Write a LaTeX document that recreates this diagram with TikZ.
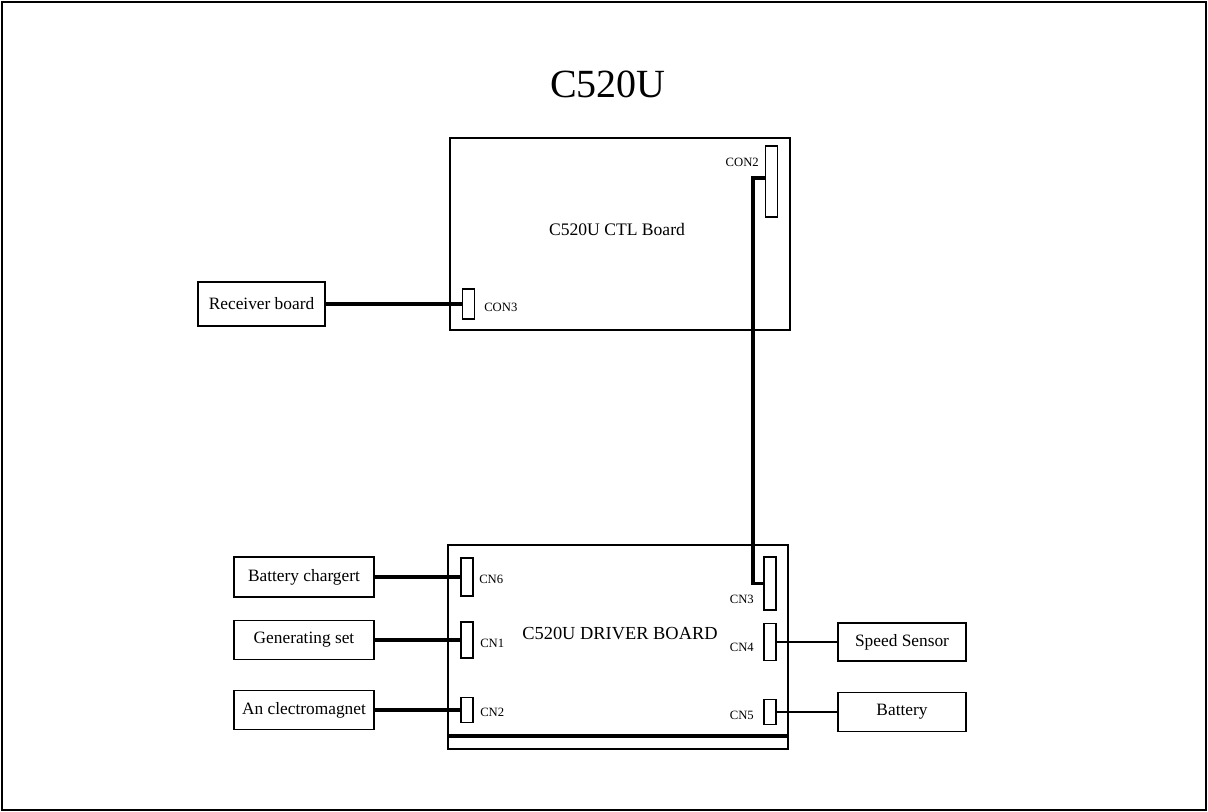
\documentclass[tikz,border=0pt]{standalone}
\usepackage{fontspec}
\setmainfont{Liberation Serif}
\usetikzlibrary{positioning}

\begin{document}
\begin{tikzpicture}[x=0.75pt,y=-0.75pt]
  \def\px{0.75pt}
  \tikzset{board/.style={draw,line width=1.1pt,inner sep=0pt}}
  \tikzset{unit/.style={draw,line width=1.1pt,inner sep=0pt,font=\fontsize{13}{15}\selectfont}}
  \tikzset{conn/.style={draw,line width=1.1pt,inner sep=0pt,minimum width=12*\px}}
  \tikzset{tag/.style={inner sep=0pt,font=\fontsize{9.5}{11}\selectfont}}
  \tikzset{wire/.style={line width=3pt}}
  \tikzset{thinwire/.style={line width=1.1pt}}

  \useasboundingbox (0,0) rectangle (1208,812);
  \draw[line width=1.6pt] (2,2) rectangle (1206,810);

  % Title
  \node[font=\fontsize{30}{34}\selectfont] (title) at (608,84) {C520U};

  % Boards
  \node[board,minimum width=340*\px,minimum height=192*\px] (ctl) at (620,234) {};
  \node[font=\fontsize{13.2}{15}\selectfont] (ctll) at (617,229) {C520U CTL Board};
  \node[board,minimum width=340*\px,minimum height=204*\px] (drv) at (618,647) {};
  \node[font=\fontsize{13.8}{16}\selectfont] (drvl) at (620,634) {C520U DRIVER BOARD};
  \draw[wire] (drv.west |- 0,736) -- (drv.east |- 0,736);

  % Connectors on the CTL board
  \node[conn,minimum height=71*\px] (con2) at (771.5,181.5) {};
  \node[tag,anchor=east] (con2l) at (759,162) {CON2};
  \node[conn,minimum height=30*\px] (con3) at (468.5,304) {};
  \node[tag,anchor=west] (con3l) at (484,307) {CON3};

  % Connectors on the driver board
  \node[conn,minimum height=38*\px] (cn6) at (467,577) {};
  \node[tag,anchor=west] (cn6l) at (479,579) {CN6};
  \node[conn,minimum height=36*\px] (cn1) at (467,640) {};
  \node[tag,anchor=west] (cn1l) at (480,643) {CN1};
  \node[conn,minimum height=25*\px] (cn2) at (467,710) {};
  \node[tag,anchor=west] (cn2l) at (480,712) {CN2};
  \node[conn,minimum height=53*\px] (cn3) at (770,583.5) {};
  \node[tag,anchor=east] (cn3l) at (754,599) {CN3};
  \node[conn,minimum height=37*\px] (cn4) at (770,642) {};
  \node[tag,anchor=east] (cn4l) at (754,647) {CN4};
  \node[conn,minimum height=25*\px] (cn5) at (770,712) {};
  \node[tag,anchor=east] (cn5l) at (754,715) {CN5};

  % Outside units
  \node[unit,minimum width=127*\px,minimum height=44*\px] (recv) at (261.5,304) {Receiver board};
  \node[unit,minimum width=140*\px,minimum height=40*\px] (chg) at (304,577) {Battery chargert};
  \node[unit,minimum width=140*\px,minimum height=39*\px] (gen) at (304,640) {Generating set};
  \node[unit,minimum width=140*\px,minimum height=39*\px] (mag) at (304,710) {An clectromagnet};
  \node[unit,minimum width=128*\px,minimum height=38*\px] (spd) at (902,642) {Speed Sensor};
  \node[unit,minimum width=128*\px,minimum height=39*\px] (bat) at (902,712) {Battery};

  % Wiring
  \draw[wire] (recv.east) -- (con3.west);
  \draw[wire] (chg.east) -- (cn6.west);
  \draw[wire] (gen.east) -- (cn1.west);
  \draw[wire] (mag.east) -- (cn2.west);
  \draw[line width=2.4pt] ([yshift=2.6pt]con2.west) -| (753,583.5) -- (cn3.west);
  \draw[thinwire] (cn4.east) -- (spd.west);
  \draw[thinwire] (cn5.east) -- (bat.west);
\end{tikzpicture}
\end{document}
